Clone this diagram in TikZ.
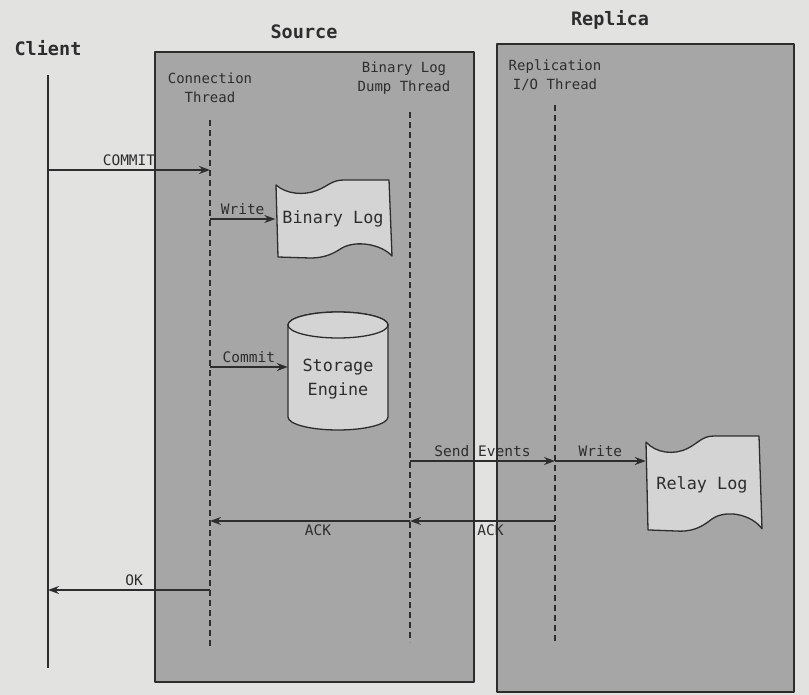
\documentclass[tikz,border=0pt]{standalone}
\usepackage{fontspec}
\setmonofont{DejaVu Sans Mono}
\usetikzlibrary{arrows.meta,positioning}
\definecolor{pagebg}{RGB}{226,226,224}
\definecolor{boxgray}{RGB}{166,166,166}
\definecolor{sheetgray}{RGB}{212,212,212}
\definecolor{inkgray}{RGB}{45,45,45}
% wavy log sheet, drawn at the origin of the current scope
\newcommand{\logsheet}{\filldraw[sheet] (0,5) .. controls (10,14) and (28,16) .. (42,10) .. controls (52,6) and (56,0) .. (68,0) -- (113,0) -- (116,76) .. controls (105,64) and (80,60) .. (66,68) .. controls (58,73) and (50,78) .. (34,78) -- (2,77) -- cycle;}
\begin{document}
\begin{tikzpicture}[x=1pt,y=-1pt,line join=round,
  title/.style={font=\ttfamily\bfseries\fontsize{18.5}{21}\selectfont, text=inkgray},
  thread/.style={font=\ttfamily\fontsize{14}{19}\selectfont, align=center, text=inkgray},
  msglabel/.style={font=\ttfamily\fontsize{14.5}{16}\selectfont, text=inkgray},
  sheettext/.style={font=\ttfamily\fontsize{16.8}{24}\selectfont, align=center, text=inkgray},
  box/.style={fill=boxgray, draw=inkgray, line width=1.5pt},
  sheet/.style={fill=sheetgray, draw=inkgray, line width=1.3pt},
  life/.style={draw=inkgray, line width=1.4pt, dash pattern=on 6pt off 4pt},
  msg/.style={draw=inkgray, line width=1.4pt, -{Stealth[length=11pt,width=8pt]}}]
  \useasboundingbox[fill=pagebg] (0,0) rectangle (809,695);
  % panels
  \draw[box] (155,52) rectangle (474,682);
  \draw[box] (497,44) rectangle (794,692);
  \node[title] (client) at (48,48) {Client};
  \node[title] (source) at (304,32) {Source};
  \node[title] (replica) at (610,20) {Replica};
  \node[thread] (conn) at (210,88) {Connection\\Thread};
  \node[thread] (dump) at (404,78) {Binary Log\\Dump Thread};
  \node[thread] (io) at (555,75) {Replication\\I/O Thread};
  % lifelines
  \coordinate (clientTop) at (48,75);
  \coordinate (connTop) at (210,120);
  \coordinate (dumpTop) at (410,112);
  \coordinate (ioTop) at (555,105);
  \draw[draw=inkgray, line width=1.4pt] (clientTop) -- (clientTop |- 0,668);
  \draw[life] (connTop) -- (connTop |- 0,648);
  \draw[life] (dumpTop) -- (dumpTop |- 0,642);
  \draw[life] (ioTop) -- (ioTop |- 0,642);
  % binary log
  \begin{scope}[shift={(276,180)}]
    \logsheet
  \end{scope}
  \node[sheettext, minimum width=115pt] (binlog) at (333,219) {Binary Log};
  % storage engine
  \filldraw[sheet] (288,325) -- (288,417) arc[start angle=180, end angle=0, x radius=50, y radius=13] -- (388,325) arc[start angle=0, end angle=-180, x radius=50, y radius=13] -- cycle;
  \filldraw[sheet] (338,325) ellipse[x radius=50, y radius=13];
  \node[sheettext, minimum width=100pt] (engine) at (338,379) {Storage\\Engine};
  % relay log
  \begin{scope}[shift={(646,436)}, yscale=1.22]
    \logsheet
  \end{scope}
  \node[sheettext, minimum width=112pt] (relay) at (702,485) {Relay Log};
  % messages
  \draw[msg] (clientTop |- 0,170) -- (connTop |- 0,170) node[msglabel, midway, above] {COMMIT};
  \draw[msg] (connTop |- binlog) -- (binlog.west) node[msglabel, midway, above] {Write};
  \draw[msg] (connTop |- 0,367) -- (engine.west |- 0,367) node[msglabel, midway, above] {Commit};
  \draw[msg] (dumpTop |- 0,461) -- (ioTop |- 0,461) node[msglabel, midway, above] {Send Events};
  \draw[msg] (ioTop |- 0,461) -- (relay.west |- 0,461) node[msglabel, midway, above] {Write};
  \draw[msg] (ioTop |- 0,521) -- (dumpTop |- 0,521) node[msglabel, midway, below, xshift=8pt] {ACK};
  \draw[msg] (dumpTop |- 0,521) -- (connTop |- 0,521) node[msglabel, midway, below, xshift=8pt] {ACK};
  \draw[msg] (connTop |- 0,590) -- (clientTop |- 0,590) node[msglabel, midway, above, xshift=5pt] {OK};
\end{tikzpicture}
\end{document}
